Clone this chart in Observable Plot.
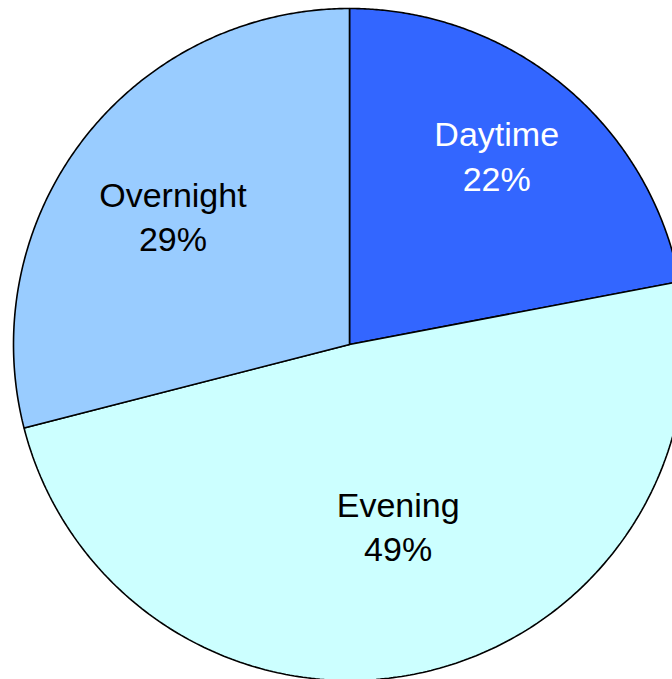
<!DOCTYPE html>
<html><head><meta charset="utf-8">
<script src="https://cdn.jsdelivr.net/npm/d3@7"></script>
<script src="https://cdn.jsdelivr.net/npm/@observablehq/plot@0.6"></script>
<style>html,body{margin:0;padding:0;background:#fff;overflow:hidden}</style>
</head><body><div id="chart"></div>
<script>
// Data
const categories = ["Daytime", "Evening", "Overnight"];
const shares = [22, 49, 29];
const sliceColors = ["#3366FF", "#CCFFFF", "#99CCFF"];
const labelColors = ["white", "black", "black"];

// Layout config: Excel-like label placement nudges (pixels) from 0.65·radius on the slice bisector
const labelNudge = {Daytime: [8, -22], Evening: [1, -33], Overnight: [-4, 4]};

const W = 672, H = 679, R = 336, CX = 349, CY = 344;

const pie = d3.pie().sort(null).value(d => d.value);
const arcs = pie(categories.map((c, i) => ({cat: c, value: shares[i], color: sliceColors[i], label: labelColors[i]})));

const slicePts = [];
arcs.forEach(a => {
  const n = 240;
  slicePts.push({cat: a.data.cat, color: a.data.color, x: 0, y: 0});
  for (let k = 0; k <= n; k++) {
    const t = a.startAngle + (a.endAngle - a.startAngle) * k / n;
    slicePts.push({cat: a.data.cat, color: a.data.color, x: Math.sin(t), y: Math.cos(t)});
  }
  slicePts.push({cat: a.data.cat, color: a.data.color, x: 0, y: 0});
});

const labels = arcs.map(a => {
  const m = (a.startAngle + a.endAngle) / 2;
  const r = 0.65;
  return {cat: a.data.cat, text: `${a.data.cat}\n${a.data.value}%`, color: a.data.label, x: r * Math.sin(m), y: r * Math.cos(m)};
});

const chart = Plot.plot({
  width: W, height: H,
  margin: 0,
  style: {background: "white", overflow: "hidden"},
  x: {domain: [-CX / R, (W - CX) / R], axis: null},
  y: {domain: [-(H - CY) / R, CY / R], axis: null},
  color: {type: "identity"},
  marks: [
    Plot.line(slicePts, {x: "x", y: "y", z: "cat", fill: "color", stroke: "black", strokeWidth: 1.6, strokeLinejoin: "miter", curve: "linear"}),
    ...labels.map(l => Plot.text([l], {
      x: "x", y: "y", text: "text", fill: "color",
      dx: labelNudge[l.cat][0], dy: labelNudge[l.cat][1],
      fontSize: 34, lineHeight: 1.32, textAnchor: "middle", lineAnchor: "middle",
      fontFamily: "Liberation Sans, Arial, sans-serif"
    }))
  ]
});
document.getElementById("chart").appendChild(chart);
</script></body></html>
